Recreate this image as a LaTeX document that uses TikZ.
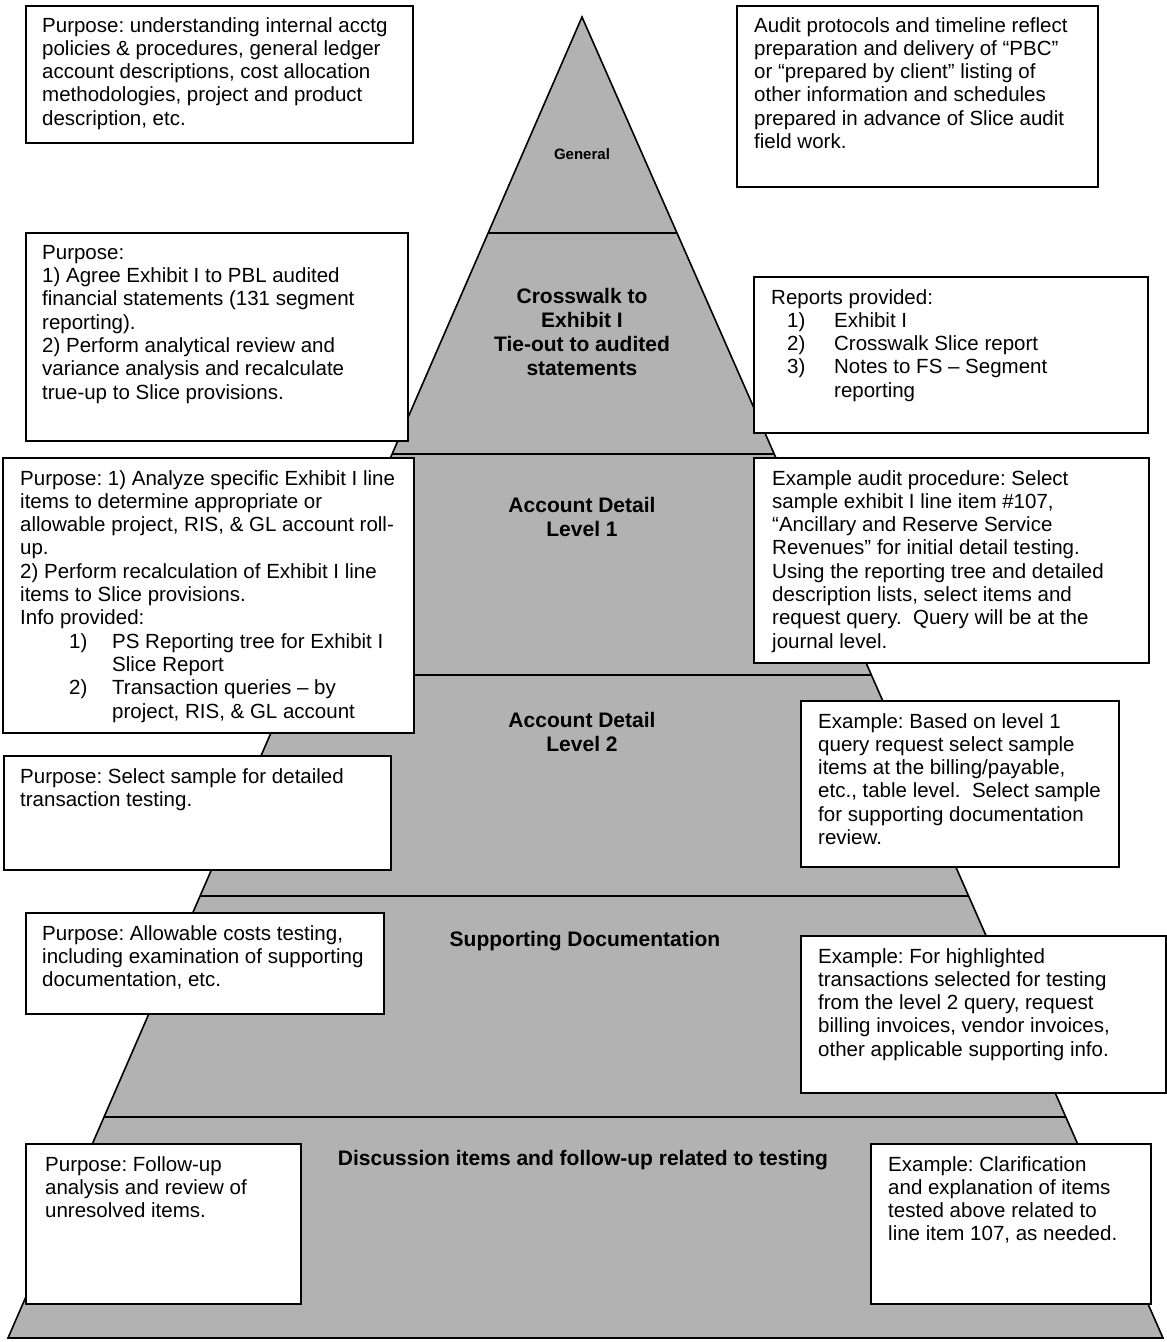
\documentclass[tikz,border=0pt]{standalone}
\usepackage{fontspec}
\setmainfont{Liberation Sans}
\usetikzlibrary{calc}
\frenchspacing
\newcommand\lstitem[3]{\hspace*{#1}\makebox[#2][l]{#3}}
\begin{document}
\begin{tikzpicture}[x=1pt,y=-1pt,
  pyr/.style={fill=black!30, draw=black, line width=1.6pt, line join=miter},
  band/.style={draw=black, line width=2.2pt},
  infobox/.style={draw=black, fill=white, line width=1.8pt, rectangle, inner sep=0pt, anchor=north west},
  boxtext/.style={anchor=north west, inner sep=0pt, align=left, font=\frenchspacing\fontsize{20.5}{23.3}\selectfont},
  lvl/.style={align=center, inner sep=0pt, font=\bfseries\fontsize{21}{24}\selectfont}]
\useasboundingbox (0,0) rectangle (1167,1342);
\fill[white] (0,0) rectangle (1167,1342);
% pyramid
\coordinate (apex) at (582,17);
\coordinate (bl) at (8,1338);
\coordinate (br) at (1163,1338);
\draw[pyr] (apex) -- (br) -- (bl) -- cycle;
\foreach \t [count=\i] in {0.1635,0.3308,0.4981,0.6654,0.8327}{
  \coordinate (L\i) at ($(apex)!\t!(bl)$);
  \coordinate (R\i) at ($(apex)!\t!(br)$);
  \draw[band] (L\i) -- (R\i);
}
% level labels
\node[lvl, font=\bfseries\fontsize{15}{18}\selectfont] (lg) at (582,154) {General};
\node[lvl] (lc) at (582,332) {Crosswalk to\\Exhibit I\\Tie-out to audited\\statements};
\node[lvl] (la1) at (582,517) {Account Detail\\Level 1};
\node[lvl] (la2) at (582,732) {Account Detail\\Level 2};
\node[lvl] (ls) at (585,941) {Supporting Documentation};
\node[lvl] (ld) at (583,1160) {Discussion items and follow-up related to testing};
% boxes
\node[infobox, minimum width=387pt, minimum height=137pt] (b1) at (25,5) {};
\node[boxtext] (t1) at ($(b1.north west)+(17,12)$) {Purpose: understanding internal acctg\\policies \& procedures, general ledger\\account descriptions, cost allocation\\methodologies, project and product\\description, etc.};

\node[infobox, minimum width=361pt, minimum height=181pt] (b2) at (736,5) {};
\node[boxtext] (t2) at ($(b2.north west)+(18,12)$) {Audit protocols and timeline reflect\\preparation and delivery of “PBC”\\or “prepared by client” listing of\\other information and schedules\\prepared in advance of Slice audit\\field work.};

\node[infobox, minimum width=382pt, minimum height=208pt] (b3) at (25,232) {};
\node[boxtext] (t3) at ($(b3.north west)+(17,13)$) {Purpose:\\1) Agree Exhibit I to PBL audited\\financial statements (131 segment\\reporting).\\2) Perform analytical review and\\variance analysis and recalculate\\true-up to Slice provisions.};

\node[infobox, minimum width=394pt, minimum height=156pt] (b4) at (753,276) {};
\node[boxtext] (t4) at ($(b4.north west)+(18,13)$) {Reports provided:\\
\lstitem{16pt}{47pt}{1)}Exhibit I\\
\lstitem{16pt}{47pt}{2)}Crosswalk Slice report\\
\lstitem{16pt}{47pt}{3)}Notes to FS – Segment\\
\hspace*{63pt}reporting};

\node[infobox, minimum width=411pt, minimum height=275pt] (b5) at (2,457) {};
\node[boxtext] (t5) at ($(b5.north west)+(18,13)$) {Purpose: 1) Analyze specific Exhibit I line\\items to determine appropriate or\\allowable project, RIS, \& GL account roll-\\up.\\2) Perform recalculation of Exhibit I line\\items to Slice provisions.\\Info provided:\\
\lstitem{49pt}{43pt}{1)}PS Reporting tree for Exhibit I\\
\hspace*{92pt}Slice Report\\
\lstitem{49pt}{43pt}{2)}Transaction queries – by\\
\hspace*{92pt}project, RIS, \& GL account};

\node[infobox, minimum width=395pt, minimum height=205pt] (b6) at (753,457) {};
\node[boxtext] (t6) at ($(b6.north west)+(19,13)$) {Example audit procedure: Select\\sample exhibit I line item \#107,\\“Ancillary and Reserve Service\\Revenues” for initial detail testing.\\Using the reporting tree and detailed\\description lists, select items and\\request query.\ \ Query will be at the\\journal level.};

\node[infobox, minimum width=387pt, minimum height=114pt] (b7) at (3,755) {};
\node[boxtext] (t7) at ($(b7.north west)+(17,13)$) {Purpose: Select sample for detailed\\transaction testing.};

\node[infobox, minimum width=318pt, minimum height=166pt] (b8) at (800,700) {};
\node[boxtext] (t8) at ($(b8.north west)+(18,13)$) {Example: Based on level 1\\query request select sample\\items at the billing/payable,\\etc., table level.\ \ Select sample\\for supporting documentation\\review.};

\node[infobox, minimum width=358pt, minimum height=101pt] (b9) at (25,912) {};
\node[boxtext] (t9) at ($(b9.north west)+(17,13)$) {Purpose: Allowable costs testing,\\including examination of supporting\\documentation, etc.};

\node[infobox, minimum width=365pt, minimum height=157pt] (b10) at (800,935) {};
\node[boxtext] (t10) at ($(b10.north west)+(18,13)$) {Example: For highlighted\\transactions selected for testing\\from the level 2 query, request\\billing invoices, vendor invoices,\\other applicable supporting info.};

\node[infobox, minimum width=275pt, minimum height=160pt] (b11) at (25,1143) {};
\node[boxtext] (t11) at ($(b11.north west)+(20,13)$) {Purpose: Follow-up\\analysis and review of\\unresolved items.};

\node[infobox, minimum width=280pt, minimum height=160pt] (b12) at (870,1143) {};
\node[boxtext] (t12) at ($(b12.north west)+(18,13)$) {Example: Clarification\\and explanation of items\\tested above related to\\line item 107, as needed.};
\end{tikzpicture}
\end{document}
